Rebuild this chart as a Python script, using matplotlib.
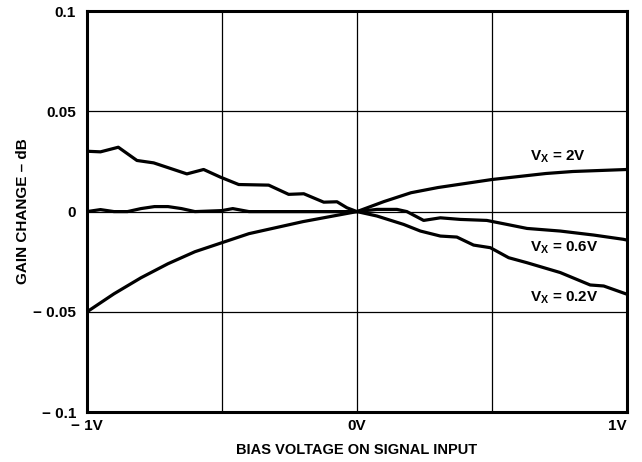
import matplotlib.pyplot as plt

plt.rcParams['font.family'] = ['Liberation Sans', 'DejaVu Sans']
plt.rcParams['font.weight'] = 'bold'

# Vx = 2V (smooth curve)
x_2v = [-1.0, -0.95, -0.9, -0.8, -0.7, -0.6, -0.5, -0.4, -0.3, -0.2, -0.1, 0.0,
        0.1, 0.2, 0.3, 0.4, 0.5, 0.6, 0.7, 0.8, 0.9, 1.0]
y_2v = [-0.050, -0.0455, -0.041, -0.033, -0.026, -0.020, -0.0155, -0.011, -0.008, -0.005, -0.0025, 0.0,
        0.005, 0.0094, 0.012, 0.014, 0.016, 0.0175, 0.019, 0.020, 0.0205, 0.021]

# Vx = 0.6V
x_06v = [-1.0, -0.95, -0.9, -0.85, -0.8, -0.75, -0.7, -0.65, -0.6, -0.5, -0.46, -0.4, 0.0,
         0.074, 0.148, 0.185, 0.247, 0.309, 0.383, 0.481, 0.556, 0.63, 0.753, 0.877, 0.986, 1.0]
y_06v = [0.0, 0.001, 0.0, 0.0, 0.0015, 0.0025, 0.0025, 0.0015, 0.0, 0.0005, 0.0015, 0.0, 0.0,
         0.0011, 0.0011, 0.0, -0.0044, -0.0031, -0.0039, -0.0044, -0.0064, -0.0084, -0.0097,
         -0.0117, -0.0138, -0.0142]

# Vx = 0.2V
x_02v = [-1.0, -0.95, -0.884, -0.815, -0.753, -0.63, -0.568, -0.506, -0.438, -0.327, -0.253,
         -0.197, -0.123, -0.074, -0.037, 0.0, 0.074, 0.173, 0.235, 0.309, 0.37, 0.432, 0.494,
         0.562, 0.63, 0.753, 0.864, 0.914, 1.0]
y_02v = [0.0301, 0.0298, 0.0321, 0.0255, 0.0243, 0.0188, 0.021, 0.0172, 0.0135, 0.0132, 0.0086,
         0.0089, 0.0047, 0.0049, 0.0019, 0.0, -0.0022, -0.0064, -0.0097, -0.0122, -0.0127,
         -0.0167, -0.018, -0.023, -0.0255, -0.0304, -0.0366, -0.0371, -0.0412]

x_ticks = [-1, 0, 1]
x_tick_labels = ['\u2212 1V', '0V', '1V']
y_ticks = [-0.1, -0.05, 0, 0.05, 0.1]
y_tick_labels = ['\u2212 0.1', '\u2212 0.05', '0', '0.05', '0.1']

fig = plt.figure(figsize=(6.42, 4.62), dpi=100)
ax = fig.add_axes([0.1355, 0.108, 0.841, 0.868])

# grid
for gx in [-0.5, 0, 0.5]:
    ax.axvline(gx, color='black', lw=0.9, zorder=1)
for gy in [-0.05, 0, 0.05]:
    ax.axhline(gy, color='black', lw=0.9, zorder=1)

ax.plot(x_2v, y_2v, color='black', lw=2.3, solid_capstyle='round', solid_joinstyle='round', zorder=3)
ax.plot(x_06v, y_06v, color='black', lw=2.3, solid_capstyle='round', solid_joinstyle='round', zorder=3)
ax.plot(x_02v, y_02v, color='black', lw=2.3, solid_capstyle='round', solid_joinstyle='round', zorder=3)

ax.set_xlim(-1, 1)
ax.set_ylim(-0.1, 0.1)
ax.set_xticks(x_ticks)
ax.set_xticklabels(x_tick_labels)
ax.set_yticks(y_ticks)
ax.set_yticklabels(y_tick_labels)
ax.tick_params(length=0, labelsize=11)
ax.tick_params(axis='y', pad=8)
ax.tick_params(axis='x', pad=5)
for lbl in ax.get_xticklabels() + ax.get_yticklabels():
    lbl.set_fontweight('bold')
xl = ax.get_xticklabels()
xl[-1].set_horizontalalignment('right')

for s in ax.spines.values():
    s.set_linewidth(2.2)

lab_kw = dict(fontsize=11, fontweight='bold', va='center', ha='left')
ax.text(0.64, 0.0275, r'V$_\mathregular{X}$ = 2V', **lab_kw)
ax.text(0.64, -0.018, r'V$_\mathregular{X}$ = 0.6V', **lab_kw)
ax.text(0.64, -0.043, r'V$_\mathregular{X}$ = 0.2V', **lab_kw)

ax.set_xlabel('BIAS VOLTAGE ON SIGNAL INPUT', fontsize=10.5, fontweight='bold', labelpad=7)
ax.set_ylabel('GAIN CHANGE \u2013 dB', fontsize=11, fontweight='bold', labelpad=2)

fig.savefig('out.png', dpi=100)
